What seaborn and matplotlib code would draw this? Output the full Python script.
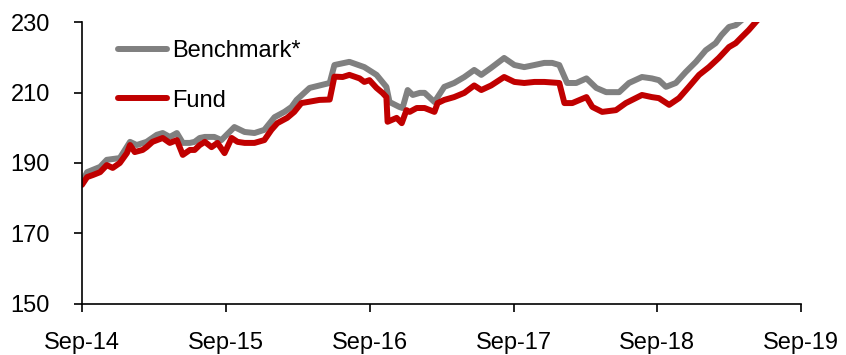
import pandas as pd
import matplotlib
matplotlib.use('Agg')
import matplotlib.pyplot as plt
import matplotlib.dates as mdates
import seaborn as sns

# Benchmark* (grey line)
bench_dates = ['2014-09-01', '2014-09-14', '2014-10-17', '2014-11-03', '2014-12-06',
               '2015-01-01', '2015-01-18', '2015-02-12', '2015-03-10', '2015-03-25',
               '2015-04-12', '2015-04-30', '2015-05-15', '2015-06-02', '2015-06-14',
               '2015-06-27', '2015-07-10', '2015-08-03', '2015-08-21', '2015-09-23',
               '2015-10-19', '2015-11-13', '2015-12-08', '2016-01-03', '2016-01-28',
               '2016-02-15', '2016-02-28', '2016-04-01', '2016-05-22', '2016-06-03',
               '2016-07-11', '2016-08-18', '2016-09-18', '2016-10-13', '2016-10-21',
               '2016-11-15', '2016-11-23', '2016-12-06', '2016-12-19', '2017-01-06',
               '2017-01-18', '2017-02-12', '2017-03-09', '2017-04-03', '2017-04-29',
               '2017-05-24', '2017-06-11', '2017-07-06', '2017-08-08', '2017-09-03',
               '2017-09-28', '2017-10-24', '2017-11-18', '2017-12-08', '2017-12-26',
               '2018-01-15', '2018-02-07', '2018-03-05', '2018-03-30', '2018-04-24',
               '2018-05-27', '2018-06-21', '2018-07-24', '2018-08-18', '2018-09-05',
               '2018-09-23', '2018-10-18', '2018-11-12', '2018-12-08', '2019-01-02',
               '2019-01-27', '2019-02-11', '2019-03-02', '2019-03-19', '2019-04-08',
               '2019-05-03']
bench_values = [184.5, 187.4, 188.9, 190.9, 191.4,
                196.0, 195.1, 196.0, 198.0, 198.5,
                197.4, 198.5, 195.7, 195.7, 196.0,
                197.1, 197.4, 197.4, 196.5, 200.2,
                198.8, 198.5, 199.4, 203.0, 204.5,
                205.9, 207.9, 211.3, 212.7, 217.8,
                218.7, 217.2, 215.0, 211.6, 207.3,
                205.9, 205.6, 210.7, 209.3, 209.9,
                209.9, 207.3, 211.6, 212.7, 214.4,
                216.4, 215.0, 217.0, 219.8, 217.8,
                217.2, 217.8, 218.4, 218.4, 217.8,
                212.7, 212.7, 214.0, 211.3, 210.1,
                210.1, 212.7, 214.4, 214.0, 213.5,
                211.6, 212.7, 215.8, 218.7, 222.0,
                224.0, 226.3, 228.6, 229.1, 231.0,
                233.0]

# Fund (red line)
fund_dates = ['2014-09-01', '2014-09-14', '2014-09-29', '2014-10-17', '2014-11-03',
              '2014-11-18', '2014-12-06', '2014-12-24', '2015-01-01', '2015-01-13',
              '2015-02-02', '2015-02-12', '2015-02-27', '2015-03-25', '2015-04-12',
              '2015-04-30', '2015-05-15', '2015-06-02', '2015-06-14', '2015-06-27',
              '2015-07-10', '2015-07-27', '2015-08-11', '2015-08-29', '2015-09-16',
              '2015-10-01', '2015-10-19', '2015-11-13', '2015-12-08', '2015-12-26',
              '2016-01-10', '2016-02-04', '2016-02-22', '2016-03-11', '2016-04-01',
              '2016-04-26', '2016-05-22', '2016-06-03', '2016-06-24', '2016-07-11',
              '2016-08-06', '2016-08-18', '2016-08-31', '2016-09-18', '2016-10-03',
              '2016-10-13', '2016-10-16', '2016-11-08', '2016-11-21', '2016-12-03',
              '2016-12-11', '2016-12-29', '2017-01-18', '2017-02-12', '2017-02-20',
              '2017-03-09', '2017-04-03', '2017-04-29', '2017-05-24', '2017-06-11',
              '2017-07-06', '2017-08-08', '2017-09-03', '2017-09-28', '2017-10-24',
              '2017-11-18', '2017-12-26', '2018-01-08', '2018-01-28', '2018-03-05',
              '2018-03-20', '2018-04-14', '2018-05-19', '2018-06-13', '2018-07-24',
              '2018-08-18', '2018-09-05', '2018-10-01', '2018-10-26', '2018-11-20',
              '2018-12-16', '2019-01-10', '2019-02-04', '2019-03-02', '2019-03-19',
              '2019-04-03', '2019-04-21', '2019-05-09', '2019-05-29']
fund_values = [183.8, 186.0, 186.6, 187.4, 189.4,
               188.6, 190.0, 192.8, 195.1, 193.1,
               193.7, 194.5, 196.0, 197.1, 195.7,
               196.5, 192.3, 193.7, 193.7, 195.1,
               196.0, 194.5, 195.7, 192.8, 197.1,
               196.0, 195.7, 195.7, 196.5, 199.4,
               201.3, 202.8, 204.5, 207.0, 207.4,
               207.9, 208.0, 214.5, 214.4, 215.0,
               214.0, 213.0, 213.5, 211.3, 209.9,
               208.7, 201.7, 202.8, 201.3, 205.0,
               204.5, 205.6, 205.6, 204.5, 207.0,
               207.9, 208.7, 209.9, 212.0, 210.7,
               212.0, 214.4, 213.0, 212.7, 213.0,
               213.0, 212.7, 207.0, 207.0, 208.7,
               205.9, 204.5, 205.0, 207.0, 209.3,
               208.7, 208.4, 206.5, 208.4, 211.6,
               215.0, 217.2, 219.8, 222.9, 224.0,
               225.7, 227.7, 230.0, 232.5]

x_ticks = ['2014-09-01', '2015-09-01', '2016-09-01', '2017-09-01', '2018-09-01', '2019-09-01']
y_ticks = [150, 170, 190, 210, 230]

sns.set_style('ticks')
plt.rcParams['font.family'] = ['Liberation Sans', 'DejaVu Sans']
plt.rcParams['text.color'] = 'black'
plt.rcParams['xtick.color'] = 'black'
plt.rcParams['ytick.color'] = 'black'

fig = plt.figure(figsize=(8.46, 3.55), dpi=100)
ax = fig.add_axes([0.0969, 0.1437, 0.85, 0.7943])

sns.lineplot(x=pd.to_datetime(bench_dates), y=bench_values, color='#808080',
             linewidth=4.3, label='Benchmark*', ax=ax)
sns.lineplot(x=pd.to_datetime(fund_dates), y=fund_values, color='#C00000',
             linewidth=4.3, label='Fund', ax=ax)

ax.set_xlim(pd.Timestamp(x_ticks[0]), pd.Timestamp(x_ticks[-1]))
ax.set_ylim(y_ticks[0], y_ticks[-1])
ax.set_xticks(pd.to_datetime(x_ticks))
ax.xaxis.set_major_formatter(mdates.DateFormatter('%b-%y'))
ax.set_yticks(y_ticks)
ax.set_xlabel('')
ax.set_ylabel('')

for s in ['top', 'right']:
    ax.spines[s].set_visible(False)
for s in ['left', 'bottom']:
    ax.spines[s].set_color('black')
    ax.spines[s].set_linewidth(1.2)
ax.tick_params(axis='y', length=6, width=1.2, pad=17, labelsize=17)
ax.tick_params(axis='x', length=6, width=1.2, pad=14, labelsize=17)

ax.legend(loc='upper left', bbox_to_anchor=(0.02, 1.01), frameon=False,
          fontsize=17, handlelength=2.1, handletextpad=0.2, labelspacing=1.15)

fig.savefig('out.png', dpi=100)
